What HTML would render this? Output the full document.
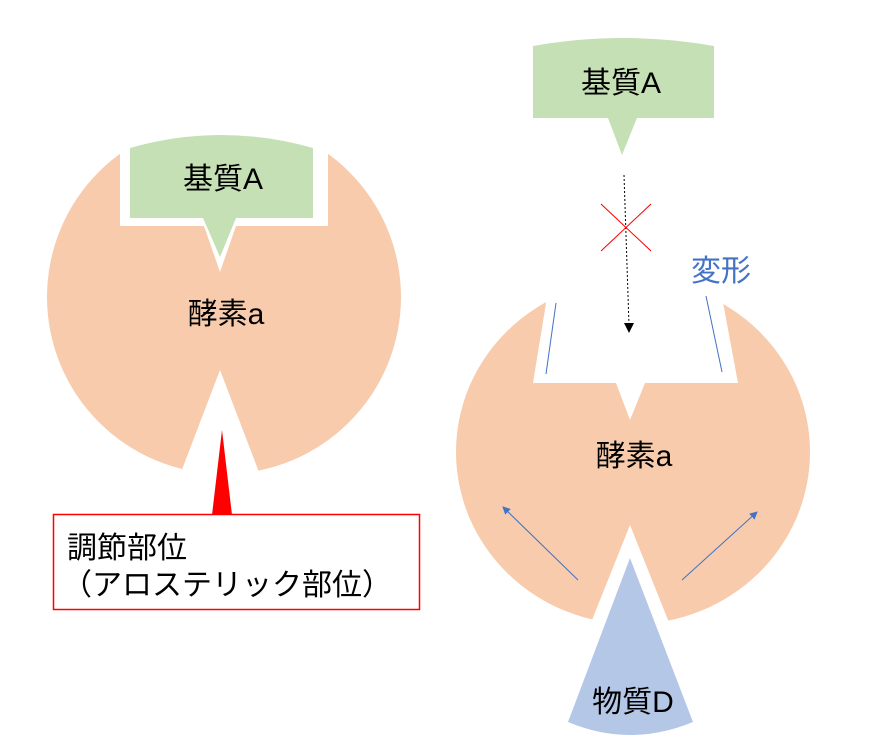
<!DOCTYPE html>
<html><head><meta charset="utf-8"><style>
body{margin:0;background:#fff}
svg{display:block}
text{font-family:"Liberation Sans","Noto Sans CJK JP",sans-serif}
</style></head><body>
<svg width="877" height="739" viewBox="0 0 877 739">
<defs>
<marker id="ab" markerWidth="8" markerHeight="8" refX="7" refY="4" orient="auto" markerUnits="userSpaceOnUse"><path d="M0,0 L8,4 L0,8 z" fill="#4472c4"/></marker>
</defs>
<!-- left enzyme -->
<circle cx="224" cy="297" r="177" fill="#f7cbac"/>
<polygon points="120,100 328,100 328,226 236,226 220,272 204,226 120,226" fill="#fff"/>
<polygon points="178,480 220,370 262,480" fill="#fff"/>
<path d="M130,148 Q221,122 313,148 L313,218 L236,218 L220,257 L203,218 L130,218 Z" fill="#c5e0b4"/>
<text x="223" y="189" font-size="30" text-anchor="middle">基質A</text>
<text x="226" y="324" font-size="30" text-anchor="middle">酵素a</text>
<polygon points="222,430 212,515 232,515" fill="#ff0000"/>
<rect x="53.5" y="514.5" width="366" height="95" fill="#fff" stroke="#ff0000" stroke-width="1.5"/>
<text x="67" y="558" font-size="30">調節部位</text>
<text x="62" y="595" font-size="30">（アロステリック部位）</text>
<!-- right enzyme -->
<ellipse cx="633" cy="452" rx="177" ry="172" fill="#f7cbac"/>
<polygon points="547,270 547,297 533,383 616,383 630,420 645,383 738,383 722,297 722,270" fill="#fff"/>
<polygon points="588,630 630,525 672,630" fill="#fff"/>
<path d="M568,722 L630,558 L693,722 Q630,748 568,722 Z" fill="#b4c7e7"/>
<text x="633" y="712" font-size="30" text-anchor="middle">物質D</text>
<path d="M533,46 Q623,30 714,46 L714,118 L637,118 L622,155 L608,118 L533,118 Z" fill="#c5e0b4"/>
<text x="621" y="93" font-size="30" text-anchor="middle">基質A</text>
<line x1="624" y1="175" x2="629" y2="325" stroke="#000" stroke-width="1" stroke-dasharray="2,2"/>
<polygon points="624,323 634,323 629,333" fill="#000"/>
<line x1="601" y1="204" x2="651" y2="251" stroke="#ff0000" stroke-width="1"/>
<line x1="601" y1="251" x2="651" y2="204" stroke="#ff0000" stroke-width="1"/>
<text x="721" y="281" font-size="30" fill="#4472c4" text-anchor="middle">変形</text>
<line x1="556" y1="303" x2="546" y2="374" stroke="#4472c4" stroke-width="1"/>
<line x1="706" y1="296" x2="722" y2="372" stroke="#4472c4" stroke-width="1"/>
<text x="634" y="466" font-size="30" text-anchor="middle">酵素a</text>
<line x1="578" y1="580" x2="503" y2="507" stroke="#4472c4" stroke-width="1" marker-end="url(#ab)"/>
<line x1="682" y1="580" x2="757" y2="512" stroke="#4472c4" stroke-width="1" marker-end="url(#ab)"/>
</svg>
</body></html>
